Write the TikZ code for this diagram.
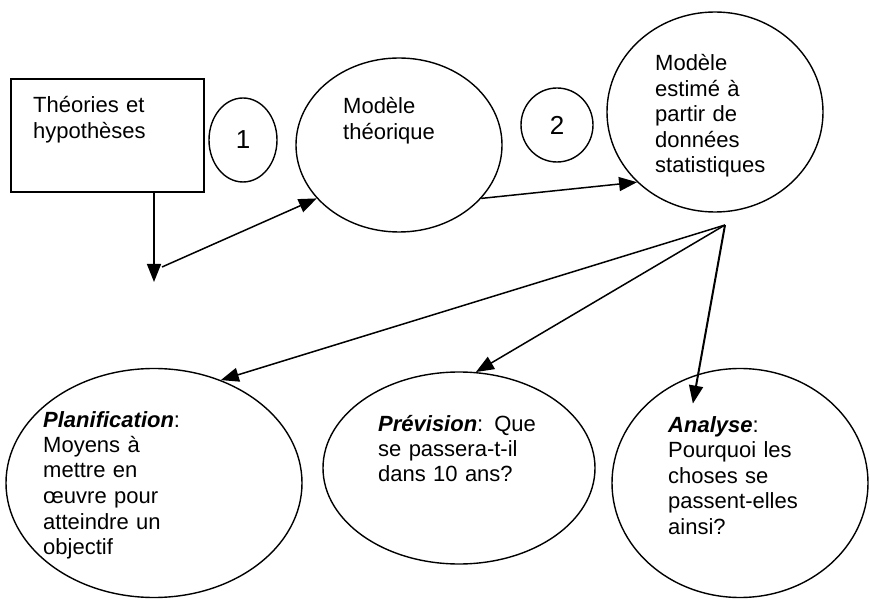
\documentclass[tikz,border=0pt]{standalone}
\usepackage{fontspec}
\setmainfont{Liberation Sans}
\usetikzlibrary{arrows.meta,shapes.geometric}
\begin{document}
\begin{tikzpicture}[x=1pt,y=-1pt,
  shp/.style={draw,line width=1.4pt},
  oval/.style={shp,ellipse,inner sep=0pt},
  txt/.style={font=\fontsize{22}{25.5}\selectfont, align=left, inner sep=0pt, anchor=base west, text width=#1},
  num/.style={font=\fontsize{26}{30}\selectfont},
  arr/.style={line width=1.5pt,-{Triangle[length=18pt,width=14pt]}}]
\useasboundingbox (0,0) rectangle (870,601);
% shapes
\node[shp,minimum width=193pt,minimum height=113pt,inner sep=0pt] (box) at (107.5,135.5) {};
\node[oval,num,minimum width=68pt,minimum height=84pt] (one) at (243,140) {1};
\node[oval,minimum width=206pt,minimum height=174pt] (mt) at (399,145) {};
\node[oval,num,minimum width=72pt,minimum height=74pt] (two) at (557,125) {2};
\node[oval,minimum width=216pt,minimum height=200pt] (me) at (715,112) {};
\node[oval,minimum width=296pt,minimum height=229pt] (plan) at (154,483) {};
\node[oval,minimum width=272pt,minimum height=192pt] (prev) at (459,468) {};
\node[oval,minimum width=256pt,minimum height=229pt] (ana) at (740,483) {};
% texts
\node[txt=140pt] (box-t) at (33,113) {Théories et\\hypothèses};
\node[txt=140pt] (mt-t) at (343,114) {Modèle\\théorique};
\node[txt=150pt] (me-t) at (655,70.7) {Modèle\\estimé à\\partir de\\données\\statistiques};
\node[txt=220pt] (plan-t) at (43,427) {\textbf{\textit{Planification}}:\\Moyens à\\mettre en\\œuvre pour\\atteindre un\\objectif};
\node[txt=220pt] (prev-t) at (378,431) {\textbf{\textit{Prévision}}: Que\\se passera-t-il\\dans 10 ans?};
\node[txt=200pt] (ana-t) at (668,432) {\textbf{\textit{Analyse}}:\\Pourquoi les\\choses se\\passent-elles\\ainsi?};
% connector points
\coordinate (drop) at (154,282);
\coordinate (junc) at (162,267);
\coordinate (fan) at (725,225);
% connectors
\draw[arr] (box.south -| drop) -- (drop);
\draw[arr] (junc) -- (mt.213);
\draw[arr] (mt.-33) -- (me.222);
\draw[arr] (fan) -- (plan.57);
\draw[arr] (fan) -- (prev.80);
\draw[arr,line width=2pt,shorten >=-30pt] (fan) -- (ana.111);
\end{tikzpicture}
\end{document}
